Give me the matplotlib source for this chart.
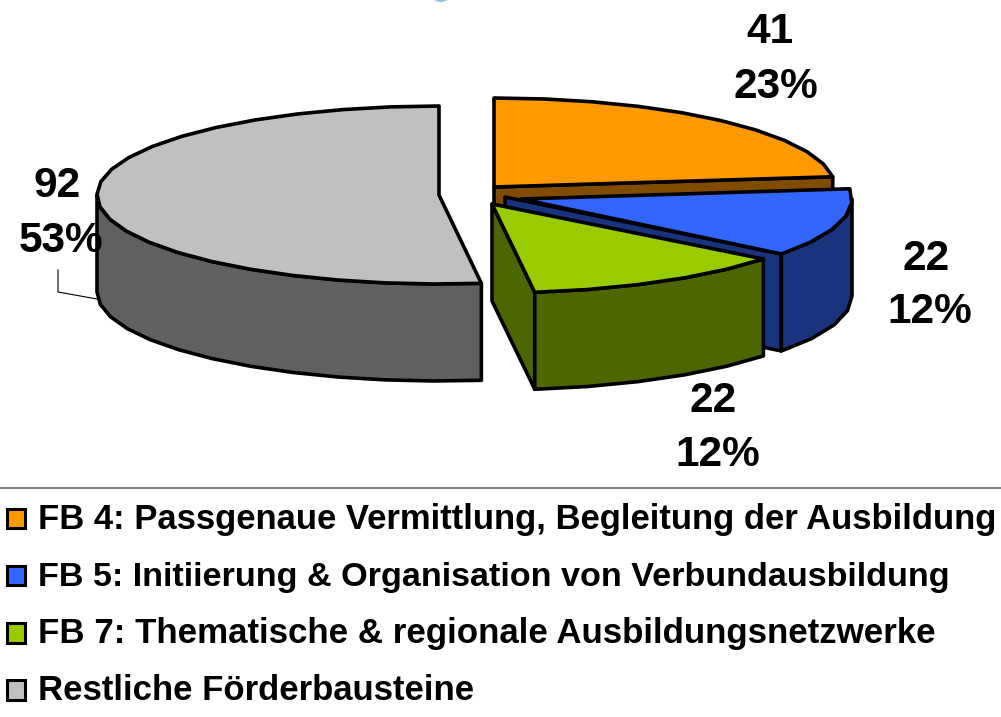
import numpy as np
import matplotlib
matplotlib.use("Agg")
import matplotlib.pyplot as plt
from matplotlib.patches import Polygon, Rectangle, Ellipse

# data
categories = ["FB 4: Passgenaue Vermittlung, Begleitung der Ausbildung",
              "FB 5: Initiierung & Organisation von Verbundausbildung",
              "FB 7: Thematische & regionale Ausbildungsnetzwerke",
              "Restliche Förderbausteine"]
values = [41, 22, 22, 92]
percent_labels = ["23%", "12%", "12%", "53%"]

# styles and layout
top_colors = ["#FF9900", "#3366FF", "#99CC00", "#C0C0C0"]
side_colors = ["#7F4C00", "#19337F", "#4C6600", "#606060"]
centers = [(494, 187), (521, 199), (492, 204), (439, 195)]
radii_x = [341, 331, 345, 342]
radius_y = 89
depth = 97
label_pos = [((770, 43), (776, 98)), ((926, 270), (930, 323)),
             ((713, 412), (718, 466)), ((57, 197), (61, 252))]
legend_base = [528.5, 585.7, 643, 700]
legend_size = [24.9, 24.6, 25.1, 25.0]
FONT = "Liberation Sans"

fig = plt.figure(figsize=(10.01, 7.17), dpi=100)
ax = fig.add_axes([0, 0, 1, 1])
ax.set_xlim(0, 1001)
ax.set_ylim(717, 0)
ax.axis("off")


def rim(i, a0, a1, step=8.0):
    n = max(int(abs(a1 - a0) / step), 1)
    t = np.radians(np.linspace(a0, a1, n + 1))
    return np.column_stack([centers[i][0] + radii_x[i] * np.cos(t),
                            centers[i][1] - radius_y * np.sin(t)])


fractions = np.array(values) / sum(values)
edges = 90 - 360 * np.concatenate([[0], np.cumsum(fractions)])

for i in range(4):
    a0, a1 = edges[i], edges[i + 1]  # clockwise, a1 < a0
    c = np.array(centers[i], float)
    style = dict(edgecolor="black", linewidth=2.6, joinstyle="round", zorder=2 + i)
    # cut faces that look towards the viewer
    if i < 3:
        edge_angle = a1
        apex = c - ([16, 2] if i == 1 else [0, 0])
        end = rim(i, edge_angle, edge_angle)[0]
        ax.add_patch(Polygon([apex, end, end + [0, depth], apex + [0, depth]],
                             facecolor=side_colors[i], **style))
    # outer wall: only the part of the rim on the lower half
    arc_start = edges[3] if i == 3 else min(a0, 0)
    arc_end = -180 if i == 3 else a1
    if arc_start > arc_end:
        arc = rim(i, arc_start, arc_end)
        ax.add_patch(Polygon(np.vstack([arc, arc[::-1] + [0, depth]]),
                             facecolor=side_colors[i], **style))
    # top surface
    ax.add_patch(Polygon(np.vstack([c, rim(i, a0, a1)]), facecolor=top_colors[i], **style))
    # value and percent labels
    (x1, y1), (x2, y2) = label_pos[i]
    ax.text(x1, y1, str(values[i]), ha="center", va="baseline", fontsize=30.5,
            fontweight="bold", family=FONT, color="black", zorder=20)
    ax.text(x2, y2, percent_labels[i], ha="center", va="baseline", fontsize=30.5,
            fontweight="bold", family=FONT, color="black", zorder=20)

# leader line of the grey slice
ax.plot([58, 58, 97], [270, 292, 299], color="black", lw=0.8, zorder=1)

# clipped title fragment at the very top
ax.add_patch(Ellipse((441, -3), 16, 10, facecolor="#8FC7DA", edgecolor="none", zorder=1))

# separator
ax.plot([0, 1001], [487.5, 487.5], color="#666666", lw=1.2, zorder=1)

# legend
for y, size, name, col in zip(legend_base, legend_size, categories, top_colors):
    ax.add_patch(Rectangle((6.5, y - 20), 18.5, 19.5, facecolor=col, edgecolor="black", linewidth=2.2))
    ax.text(38, y, name, ha="left", va="baseline", fontsize=size, fontweight="bold",
            family=FONT, color="black")

fig.savefig("out.png", dpi=100, facecolor="white")
